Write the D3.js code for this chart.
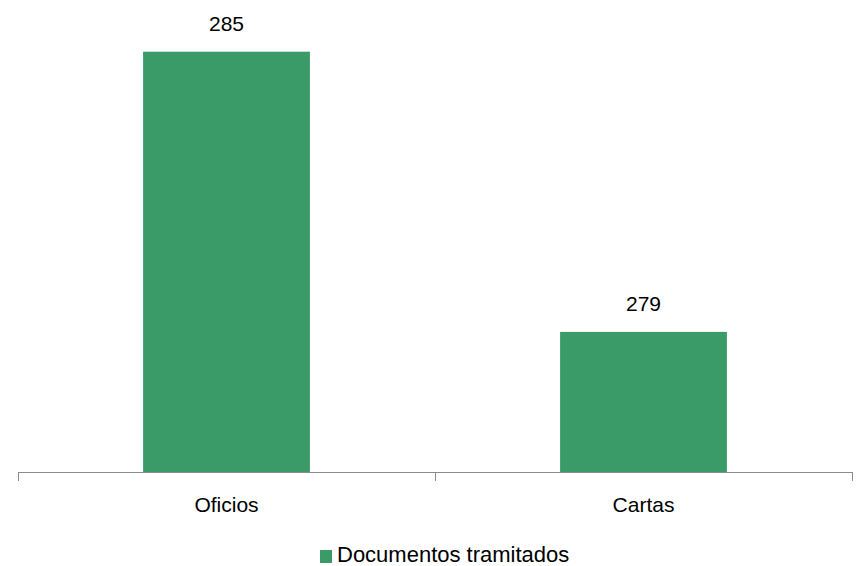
<!DOCTYPE html>
<html lang="es">
<head>
  <meta charset="UTF-8">
  <title>Documentos tramitados</title>
  <style>
    * { margin: 0; padding: 0; }
    body { background: #fff; font-family: "Liberation Sans", Arial, sans-serif; }
  </style>
  <script src="https://cdnjs.cloudflare.com/ajax/libs/d3/7.8.5/d3.min.js"></script>
</head>
<body>
  <svg id="chart" width="857" height="566"></svg>
  <script>
    const categories = ['Oficios', 'Cartas'];
    const values = [285, 279];
    const seriesName = 'Documentos tramitados';
    const barColor = '#3a9a68';

    const plot = { left: 18, right: 852, top: 5, bottom: 472 };
    const fontSize = 21;

    const svg = d3.select('#chart');

    const x = d3.scaleBand().domain(categories).range([plot.left, plot.right]).padding(0);
    const y = d3.scaleLinear().domain([276, 286]).range([plot.bottom, plot.top]);
    const barW = x.bandwidth() * 0.4;

    // bars
    svg.selectAll('rect.bar')
      .data(categories)
      .enter().append('rect')
      .attr('class', 'bar')
      .attr('x', (d) => x(d) + (x.bandwidth() - barW) / 2)
      .attr('y', (d, i) => y(values[i]))
      .attr('width', barW)
      .attr('height', (d, i) => plot.bottom - y(values[i]))
      .attr('fill', barColor);

    // value labels
    svg.selectAll('text.val')
      .data(categories)
      .enter().append('text')
      .attr('class', 'val')
      .attr('x', (d) => x(d) + x.bandwidth() / 2)
      .attr('y', (d, i) => y(values[i]) - 21)
      .attr('text-anchor', 'middle')
      .attr('font-size', fontSize)
      .attr('fill', '#000')
      .text((d, i) => values[i]);

    // x axis line + ticks at category boundaries
    svg.append('line')
      .attr('x1', plot.left).attr('x2', plot.right + 1)
      .attr('y1', plot.bottom + 0.5).attr('y2', plot.bottom + 0.5)
      .attr('stroke', '#8c8c8c').attr('stroke-width', 1);

    const bounds = categories.map((d) => x(d)).concat([plot.right]);
    svg.selectAll('line.tick')
      .data(bounds)
      .enter().append('line')
      .attr('class', 'tick')
      .attr('x1', (d) => Math.round(d) + 0.5).attr('x2', (d) => Math.round(d) + 0.5)
      .attr('y1', plot.bottom).attr('y2', plot.bottom + 9)
      .attr('stroke', '#8c8c8c').attr('stroke-width', 1);

    svg.selectAll('text.cat')
      .data(categories)
      .enter().append('text')
      .attr('class', 'cat')
      .attr('x', (d) => x(d) + x.bandwidth() / 2)
      .attr('y', 512)
      .attr('text-anchor', 'middle')
      .attr('font-size', fontSize)
      .attr('fill', '#000')
      .text((d) => d);

    // legend
    const legend = svg.append('g').attr('transform', 'translate(320,550)');
    legend.append('rect')
      .attr('x', 0).attr('y', 0)
      .attr('width', 12).attr('height', 13)
      .attr('fill', barColor);
    legend.append('text')
      .attr('x', 17).attr('y', 12)
      .attr('font-size', fontSize + 1)
      .attr('fill', '#000')
      .text(seriesName);
  </script>
</body>
</html>
